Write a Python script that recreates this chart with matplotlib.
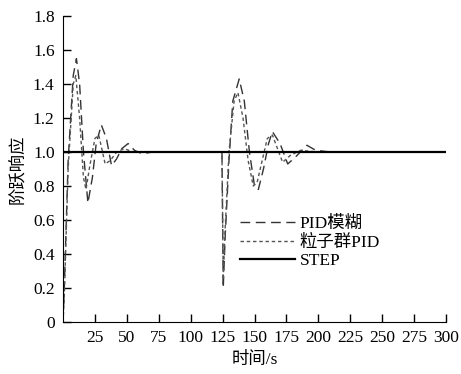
import numpy as np
import matplotlib
matplotlib.use("Agg")
import matplotlib.pyplot as plt

plt.rcParams['font.family'] = ['Liberation Serif', 'Noto Sans CJK SC']
plt.rcParams['axes.unicode_minus'] = False

# data
t_fuzzy = [0, 1, 2, 3, 4, 6, 8, 10.5, 13, 16, 19.5, 23, 26, 30, 34, 38, 42, 46, 51, 56, 62, 70, 80,
           124.5, 125.5, 127, 130, 133, 138, 142, 146, 150, 153, 157, 161, 164, 170, 176, 182, 191, 198, 210, 300]
v_fuzzy = [0, 0.2, 0.45, 0.7, 0.95, 1.2, 1.45, 1.55, 1.4, 1.0, 0.70, 0.85, 1.05, 1.16, 1.08, 0.92, 0.96, 1.02, 1.05, 1.01, 0.99, 1.0, 1.0,
           1.0, 0.2, 0.5, 0.95, 1.3, 1.43, 1.3, 1.0, 0.8, 0.78, 0.9, 1.05, 1.12, 1.05, 0.93, 0.97, 1.04, 1.01, 1.0, 1.0]
t_pso = [0, 1, 2, 3, 4, 6, 8, 10, 13, 16, 18, 21, 25, 28, 33, 37, 42, 48, 55, 65, 80,
         124.5, 125.5, 127, 130, 134, 137, 141, 145, 149, 152, 156, 160, 164, 168, 172, 178, 186, 200, 300]
v_pso = [0, 0.15, 0.4, 0.65, 0.9, 1.15, 1.4, 1.45, 1.2, 0.85, 0.78, 0.92, 1.08, 1.1, 0.93, 0.95, 1.0, 1.02, 1.0, 1.0, 1.0,
         1.0, 0.25, 0.55, 1.0, 1.3, 1.35, 1.2, 0.95, 0.8, 0.82, 0.95, 1.08, 1.1, 1.02, 0.94, 0.98, 1.01, 1.0, 1.0]
t_step = [0, 300]
v_step = [1.0, 1.0]

fig = plt.figure(figsize=(4.61, 3.74), dpi=100)
ax = fig.add_axes([0.1367, 0.139, 0.8308, 0.818])

ax.plot(t_fuzzy, v_fuzzy, color='#333333', lw=1.0, dashes=(7, 4), label='PID模糊')
ax.plot(t_pso, v_pso, color='#555555', lw=1.0, dashes=(2.5, 2), label='粒子群PID')
ax.plot(t_step, v_step, color='black', lw=1.6, label='STEP')

ax.set_xlim(0, 300)
ax.set_ylim(0, 1.8)
ax.set_xticks(np.arange(25, 301, 25))
ax.set_yticks(np.arange(0, 1.81, 0.2))
ax.set_yticklabels(['0', '0.2', '0.4', '0.6', '0.8', '1.0', '1.2', '1.4', '1.6', '1.8'])
ax.tick_params(direction='in', length=6, width=1, labelsize=12.5, pad=6)
ax.spines['top'].set_visible(False)
ax.spines['right'].set_visible(False)

ax.set_xlabel('时间/s', fontsize=12.5, labelpad=4)
ax.set_ylabel('阶跃响应', fontsize=12.5, labelpad=4)

ax.legend(loc='center left', bbox_to_anchor=(0.42, 0.26), frameon=False, fontsize=12.5,
          handlelength=3.2, handletextpad=0.25, labelspacing=0.15)

fig.savefig('out.png', dpi=100)
